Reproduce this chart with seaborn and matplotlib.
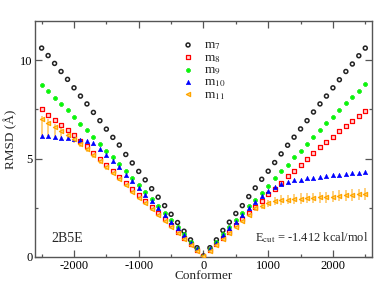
import numpy as np
import pandas as pd
import seaborn as sns
import matplotlib.pyplot as plt
from matplotlib.ticker import MultipleLocator

conformer = list(range(-2500, 2501, 100))

m7 = [10.62, 10.24, 9.84, 9.43, 9.03, 8.60, 8.18, 7.78, 7.35, 6.93, 6.50, 6.08, 5.69, 5.21, 4.78,
      4.35, 3.92, 3.47, 3.04, 2.61, 2.17, 1.75, 1.31, 0.87, 0.47, 0.05,
      0.47, 0.87, 1.35, 1.77, 2.21, 2.61, 3.07, 3.51, 3.95, 4.36, 4.80, 5.24, 5.68, 6.09,
      6.51, 6.93, 7.37, 7.78, 8.18, 8.60, 9.01, 9.43, 9.81, 10.23, 10.62]
m8 = [7.50, 7.22, 6.98, 6.71, 6.44, 6.18, 5.91, 5.62, 5.29, 4.98, 4.68, 4.39, 4.07, 3.77, 3.46,
      3.17, 2.87, 2.56, 2.24, 1.93, 1.60, 1.28, 0.97, 0.66, 0.35, 0.04,
      0.35, 0.66, 0.97, 1.28, 1.60, 1.92, 2.22, 2.53, 2.85, 3.19, 3.48, 3.78, 4.10, 4.39,
      4.68, 4.96, 5.27, 5.57, 5.83, 6.12, 6.39, 6.66, 6.93, 7.18, 7.44]
m9 = [8.72, 8.42, 8.10, 7.78, 7.45, 7.12, 6.77, 6.43, 6.09, 5.75, 5.41, 5.07, 4.71, 4.36, 4.02,
      3.66, 3.29, 2.95, 2.60, 2.24, 1.90, 1.52, 1.17, 0.78, 0.40, 0.05,
      0.40, 0.78, 1.17, 1.52, 1.90, 2.24, 2.60, 2.92, 3.27, 3.63, 4.00, 4.36, 4.68, 5.07,
      5.37, 5.75, 6.12, 6.46, 6.79, 7.13, 7.47, 7.81, 8.13, 8.45, 8.79]
m10 = [6.13, 6.13, 6.10, 6.07, 6.03, 6.00, 5.95, 5.88, 5.78, 5.51, 5.19, 4.88, 4.56, 4.19, 3.88,
       3.51, 3.17, 2.83, 2.50, 2.15, 1.80, 1.45, 1.10, 0.73, 0.38, 0.05,
       0.38, 0.73, 1.10, 1.45, 1.80, 2.15, 2.48, 2.78, 3.08, 3.35, 3.55, 3.72, 3.80, 3.89,
       3.92, 3.99, 4.04, 4.09, 4.12, 4.16, 4.19, 4.21, 4.25, 4.27, 4.31]
m11 = [7.00, 6.79, 6.62, 6.42, 6.20, 6.00, 5.75, 5.49, 5.19, 4.86, 4.56, 4.25, 3.95, 3.64, 3.32,
       3.02, 2.73, 2.43, 2.13, 1.83, 1.53, 1.22, 0.92, 0.62, 0.32, 0.03,
       0.32, 0.62, 0.92, 1.22, 1.53, 1.83, 2.13, 2.47, 2.61, 2.73, 2.85, 2.89, 2.92, 2.96,
       2.97, 2.99, 3.00, 3.04, 3.04, 3.07, 3.11, 3.13, 3.14, 3.18, 3.21]
m11_err_lo = [0.90, 0.70, 0.55, 0.40, 0.25, 0.20, 0.15, 0.15, 0.14, 0.13, 0.12, 0.10, 0.10, 0.09, 0.09,
              0.08, 0.08, 0.07, 0.07, 0.06, 0.06, 0.05, 0.05, 0.04, 0.04, 0.03,
              0.04, 0.04, 0.05, 0.05, 0.06, 0.07, 0.08, 0.12, 0.15, 0.18, 0.22, 0.24, 0.25, 0.26,
              0.26, 0.27, 0.27, 0.28, 0.28, 0.28, 0.29, 0.29, 0.30, 0.30, 0.30]
m11_err_hi = [0.15, 0.20, 0.15, 0.15, 0.10, 0.10, 0.10, 0.10, 0.10, 0.10, 0.10, 0.09, 0.09, 0.08, 0.08,
              0.08, 0.07, 0.07, 0.06, 0.06, 0.05, 0.05, 0.04, 0.04, 0.03, 0.03,
              0.04, 0.04, 0.05, 0.05, 0.06, 0.07, 0.08, 0.12, 0.15, 0.18, 0.22, 0.24, 0.25, 0.26,
              0.26, 0.27, 0.27, 0.28, 0.28, 0.28, 0.29, 0.29, 0.30, 0.30, 0.30]

df = pd.DataFrame({"Conformer": conformer, "m7": m7, "m8": m8, "m9": m9, "m10": m10, "m11": m11})

sns.set_theme(style="ticks")
plt.rcParams["font.family"] = ["Liberation Serif", "DejaVu Serif"]
plt.rcParams["mathtext.fontset"] = "stix"
plt.rcParams["axes.unicode_minus"] = False

fig = plt.figure(figsize=(3.74, 2.83), dpi=100)
ax = fig.add_axes([0.094, 0.092, 0.900, 0.834])

# orange error bars first so markers sit on top
ax.errorbar(df["Conformer"], df["m11"], yerr=[m11_err_lo, m11_err_hi], fmt="none",
            ecolor="#ffa500", elinewidth=1.4, alpha=0.5, zorder=1)

styles = {
    "m7": dict(marker="o", color="none", edgecolor="#222222", linewidth=1.1, s=8),
    "m8": dict(marker="s", color="#ffd8d8", edgecolor="#ff0000", linewidth=0.9, s=7),
    "m9": dict(marker="P", color="#00ff00", edgecolor="#00e000", linewidth=0.4, s=10),
    "m10": dict(marker="^", color="#0000ff", edgecolor="#0000ff", linewidth=0.4, s=10),
    "m11": dict(marker="<", color="#ffd070", edgecolor="#ffa500", linewidth=0.9, s=9),
}
labels = {"m7": r"m$_7$", "m8": r"m$_8$", "m9": r"m$_9$", "m10": r"m$_{10}$", "m11": r"m$_{11}$"}
for key, st in styles.items():
    sns.scatterplot(data=df, x="Conformer", y=key, ax=ax, label=labels[key], zorder=3, **st)

ax.set_xlim(-2600, 2600)
ax.set_ylim(0, 12)
ax.xaxis.set_major_locator(MultipleLocator(1000))
ax.xaxis.set_minor_locator(MultipleLocator(500))
ax.yaxis.set_major_locator(MultipleLocator(5))
ax.yaxis.set_minor_locator(MultipleLocator(2.5))
ax.tick_params(which="both", direction="in", top=True, right=True, labelsize=9, colors="#555555",
               labelcolor="black", pad=2)
ax.tick_params(which="major", length=5, width=0.9)
ax.tick_params(which="minor", length=2.5, width=0.9)
for sp in ax.spines.values():
    sp.set_color("#555555")
    sp.set_linewidth(1.0)

ax.set_xlabel("Conformer", fontsize=9.5, labelpad=-1)
ax.set_ylabel("RMSD (Å)", fontsize=9.5, labelpad=2)

ax.text(-2350, 0.95, "2B5E", fontsize=10, va="center")
ax.text(800, 1.0, r"E$_{\rm cut}$ = -1.412 kcal/mol", fontsize=9, va="center")

leg = ax.legend(loc="upper left", bbox_to_anchor=(0.415, 0.945), frameon=False, fontsize=9.5,
                handletextpad=0.6, labelspacing=-0.05, borderaxespad=0.0, handlelength=1.2)

fig.savefig("out.png", dpi=100)
